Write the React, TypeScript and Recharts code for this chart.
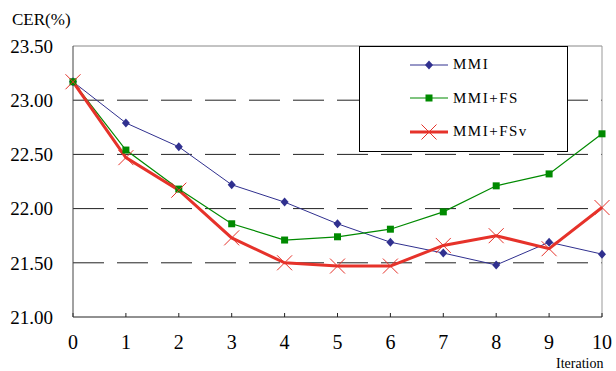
import React from "react";
import {
  LineChart,
  Line,
  XAxis,
  YAxis,
  CartesianGrid,
  ReferenceLine,
} from "recharts";

const iterations = [0, 1, 2, 3, 4, 5, 6, 7, 8, 9, 10];
const mmi = [23.17, 22.79, 22.57, 22.22, 22.06, 21.86, 21.69, 21.59, 21.48, 21.69, 21.58];
const mmiFs = [23.17, 22.54, 22.18, 21.86, 21.71, 21.74, 21.81, 21.97, 22.21, 22.32, 22.69];
const mmiFsv = [23.17, 22.47, 22.17, 21.73, 21.5, 21.47, 21.47, 21.66, 21.75, 21.63, 22.01];
const yTicks = [21, 21.5, 22, 22.5, 23, 23.5];
const gridValues = [21.5, 22, 22.5, 23];

const data = iterations.map((it, i) => ({
  it,
  mmi: mmi[i],
  fs: mmiFs[i],
  fsv: mmiFsv[i],
}));

const BLUE = "#30308f";
const GREEN = "#008a00";
const RED = "#e6322a";
const SERIF = "'Times New Roman', serif";

function Diamond({ cx, cy }: any) {
  if (cx == null || cy == null) return null;
  return (
    <path
      d={`M${cx},${cy - 4.5} L${cx + 4},${cy} L${cx},${cy + 4.5} L${cx - 4},${cy} Z`}
      fill={BLUE}
    />
  );
}

function Square({ cx, cy }: any) {
  if (cx == null || cy == null) return null;
  return <rect x={cx - 3.5} y={cy - 3.5} width={7} height={7} fill={GREEN} />;
}

function Cross({ cx, cy }: any) {
  if (cx == null || cy == null) return null;
  const r = 7.5;
  return (
    <path
      d={`M${cx - r},${cy - r} L${cx + r},${cy + r} M${cx - r},${cy + r} L${cx + r},${cy - r}`}
      stroke={RED}
      strokeWidth={1}
      fill="none"
    />
  );
}

const legendItems = [
  { name: "MMI", color: BLUE, width: 1, Mark: Diamond },
  { name: "MMI+FS", color: GREEN, width: 1.2, Mark: Square },
  { name: "MMI+FSv", color: RED, width: 3, Mark: Cross },
];

function LegendBox() {
  return (
    <div
      style={{
        position: "absolute",
        left: 359,
        top: 46,
        boxSizing: "border-box",
        width: 209,
        height: 106,
        border: "1px solid #000",
        background: "#fff",
        paddingTop: 1,
      }}
    >
      {legendItems.map((it) => (
        <div
          key={it.name}
          style={{ display: "flex", alignItems: "center", height: 33.5 }}
        >
          <svg width={92} height={20} style={{ display: "block" }}>
            <line x1={50} x2={88} y1={10} y2={10} stroke={it.color} strokeWidth={it.width} />
            <it.Mark cx={69} cy={10} />
          </svg>
          <span
            style={{
              fontFamily: SERIF,
              fontSize: 15,
              letterSpacing: 1.5,
              color: "#000",
              marginLeft: 1,
            }}
          >
            {it.name}
          </span>
        </div>
      ))}
    </div>
  );
}

const tickStyle = { fontFamily: SERIF };

export default function App() {
  return (
    <div
      style={{
        position: "absolute",
        left: 0,
        top: 0,
        width: 616,
        height: 371,
        background: "#fff",
        overflow: "hidden",
        fontFamily: SERIF,
      }}
    >
      <LineChart
        width={616}
        height={371}
        data={data}
        margin={{ top: 46, right: 14, left: 10, bottom: 24 }}
        style={{ fontFamily: SERIF }}
      >
        <CartesianGrid
          horizontal
          vertical={false}
          horizontalValues={gridValues}
          stroke="#222"
          strokeDasharray="31 13"
        />
        <ReferenceLine y={23.5} stroke="#888" strokeWidth={1} />
        <ReferenceLine x={10} stroke="#999" strokeWidth={1} />
        <XAxis
          dataKey="it"
          type="number"
          domain={[0, 10]}
          ticks={iterations}
          interval={0}
          height={30}
          tickSize={-4}
          tickMargin={22}
          stroke="#222"
          tick={{ fontFamily: SERIF, fontSize: 20, fill: "#000", style: tickStyle }}
        />
        <YAxis
          type="number"
          domain={[21, 23.5]}
          ticks={yTicks}
          interval={0}
          width={63}
          tickSize={0}
          tickMargin={20}
          stroke="#444"
          tickFormatter={(v: number) => v.toFixed(2)}
          tick={{ fontFamily: SERIF, fontSize: 19, fill: "#000", style: tickStyle }}
        />
        <Line
          dataKey="mmi"
          stroke={BLUE}
          strokeWidth={1}
          dot={<Diamond />}
          activeDot={false}
          isAnimationActive={false}
        />
        <Line
          dataKey="fs"
          stroke={GREEN}
          strokeWidth={1.2}
          dot={<Square />}
          activeDot={false}
          isAnimationActive={false}
        />
        <Line
          dataKey="fsv"
          stroke={RED}
          strokeWidth={3}
          dot={<Cross />}
          activeDot={false}
          isAnimationActive={false}
        />
        <text x={12} y={25} fontSize={17} fill="#000" style={tickStyle}>
          CER(%)
        </text>
        <text x={556} y={368} fontSize={14} fill="#000" style={tickStyle}>
          Iteration
        </text>
      </LineChart>
      <LegendBox />
    </div>
  );
}
